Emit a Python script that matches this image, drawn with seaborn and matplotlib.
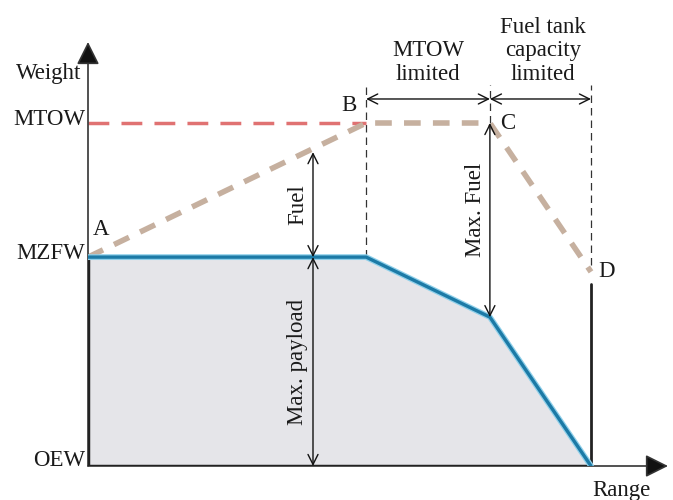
import numpy as np
import pandas as pd
import matplotlib.pyplot as plt
import seaborn as sns

# Normalised payload-range diagram (range: 0..1, weight: OEW=0, MTOW=1)
points = ['A', 'B', 'C', 'D']
point_range = [0.0, 0.553, 0.799, 1.0]
point_weight = [0.609, 1.0, 1.0, 0.566]

payload_range = [0.0, 0.553, 0.799, 1.0]
payload_weight = [0.609, 0.609, 0.434, 0.0]

weight_ticks = [0.0, 0.609, 1.0]
weight_labels = ['OEW', 'MZFW', 'MTOW']

sns.set_style('white')
plt.rcParams['font.family'] = ['Liberation Serif', 'DejaVu Serif']
plt.rcParams['text.color'] = '#1a1a1a'

fig = plt.figure(figsize=(6.73, 5.0), dpi=100)
ax = fig.add_axes([88 / 673, 34 / 500, 580 / 673, 424 / 500])
ax.set_xlim(0, 580 / 503)
ax.set_ylim(0, 424 / 343)
for s in ax.spines.values():
    s.set_visible(False)
ax.set_xticks([])
ax.set_yticks([])

FS = 16.5
mzfw, mtow = weight_ticks[1], weight_ticks[2]
xB, xC, xD = point_range[1], point_range[2], point_range[3]

# grey payload area
poly_x = payload_range + [0.0]
poly_y = payload_weight + [0.0]
ax.fill(poly_x, poly_y, color='#e5e5e9', zorder=0)

# axes with arrows
ax.annotate('', xy=(0, 424 / 343), xytext=(0, 0),
            arrowprops=dict(arrowstyle='-|>,head_length=0.5,head_width=0.25',
                            color='#333333', fc='#111111', lw=1.2,
                            mutation_scale=28, shrinkA=0, shrinkB=0), zorder=3)
ax.annotate('', xy=(580 / 503, 0), xytext=(0, 0),
            arrowprops=dict(arrowstyle='-|>,head_length=0.5,head_width=0.25',
                            color='#333333', fc='#111111', lw=1.2,
                            mutation_scale=28, shrinkA=0, shrinkB=0), zorder=3)
ax.plot([0, xD], [0, 0], color='#222222', lw=2.5, zorder=3)
ax.plot([0, 0], [0, mzfw], color='#222222', lw=2.5, zorder=3)
ax.plot([xD, xD], [0, point_weight[3] - 0.035], color='#222222', lw=2, zorder=3)

# MTOW reference (red dashed)
sns.lineplot(x=[0, xB], y=[mtow, mtow], ax=ax, color='#e07272', lw=2.5,
             linestyle=(0, (6, 3.5)), zorder=2)

# take-off weight line A-B-C-D (brown dashed)
tow = pd.DataFrame({'range': point_range, 'weight': point_weight})
sns.lineplot(data=tow, x='range', y='weight', ax=ax, sort=False, color='#c6b09f',
             lw=4, linestyle=(0, (3, 2.2)), zorder=2)

# payload line with a light halo
pl = pd.DataFrame({'range': payload_range, 'weight': payload_weight})
sns.lineplot(data=pl, x='range', y='weight', ax=ax, sort=False, color='#8fd0ea',
             lw=4.2, zorder=4)
sns.lineplot(data=pl, x='range', y='weight', ax=ax, sort=False, color='#1c7aa6',
             lw=2.4, zorder=4)

# vertical dashed guides
top_guide = 1.11
for x0, y0 in [(xB, mzfw), (xC, mtow), (xD, point_weight[3] + 0.02)]:
    ax.plot([x0, x0], [y0, top_guide], color='#333333', lw=0.9,
            linestyle=(0, (6, 4)), zorder=1)

# dimension arrows
def dim(x0, y0, x1, y1):
    ax.annotate('', xy=(x1, y1), xytext=(x0, y0),
                arrowprops=dict(arrowstyle='<->', color='#111111', lw=1.0,
                                mutation_scale=18, shrinkA=0, shrinkB=0), zorder=5)

y_dim = 1.07
dim(xB, y_dim, xC, y_dim)
dim(xC, y_dim, xD, y_dim)
x_fuel = (313 - 88) / 503
dim(x_fuel, mzfw, x_fuel, mtow - 0.085)
dim(x_fuel, 0.0, x_fuel, mzfw)
dim(xC, payload_weight[2], xC, mtow)

# texts
ax.text(x_fuel - 0.03, (mzfw + mtow - 0.085) / 2, 'Fuel', rotation=90,
        ha='center', va='center', fontsize=FS)
ax.text(x_fuel - 0.03, mzfw / 2, 'Max. payload', rotation=90,
        ha='center', va='center', fontsize=FS)
ax.text(xC - 0.028, (payload_weight[2] + mtow) / 2 + 0.03, 'Max. Fuel', rotation=90,
        ha='center', va='center', fontsize=FS)
ax.text((xB + xC) / 2, 1.11, 'MTOW\nlimited', ha='center', va='bottom',
        fontsize=FS, linespacing=1.18)
ax.text((xC + xD) / 2 + 0.005, 1.11, 'Fuel tank\ncapacity\nlimited', ha='center',
        va='bottom', fontsize=FS, linespacing=1.18)

offsets = {'A': (0.025, 0.08), 'B': (-0.034, 0.05), 'C': (0.036, 0.0), 'D': (0.03, 0.0)}
for name, xr, yw in zip(points, point_range, point_weight):
    dx, dy = offsets[name]
    ax.text(xr + dx, yw + dy, name, ha='center', va='center', fontsize=FS)

# axis labels
for t, lab in zip(weight_ticks, weight_labels):
    ax.text(-0.005, t + (0.01 if t > 0 else 0.015), lab, ha='right', va='center',
            fontsize=FS)
ax.text(-0.078, 1.145, 'Weight', ha='center', va='center', fontsize=FS)
ax.text(1.06, -0.07, 'Range', ha='center', va='center', fontsize=FS, clip_on=False)

fig.savefig('out.png', dpi=100)
